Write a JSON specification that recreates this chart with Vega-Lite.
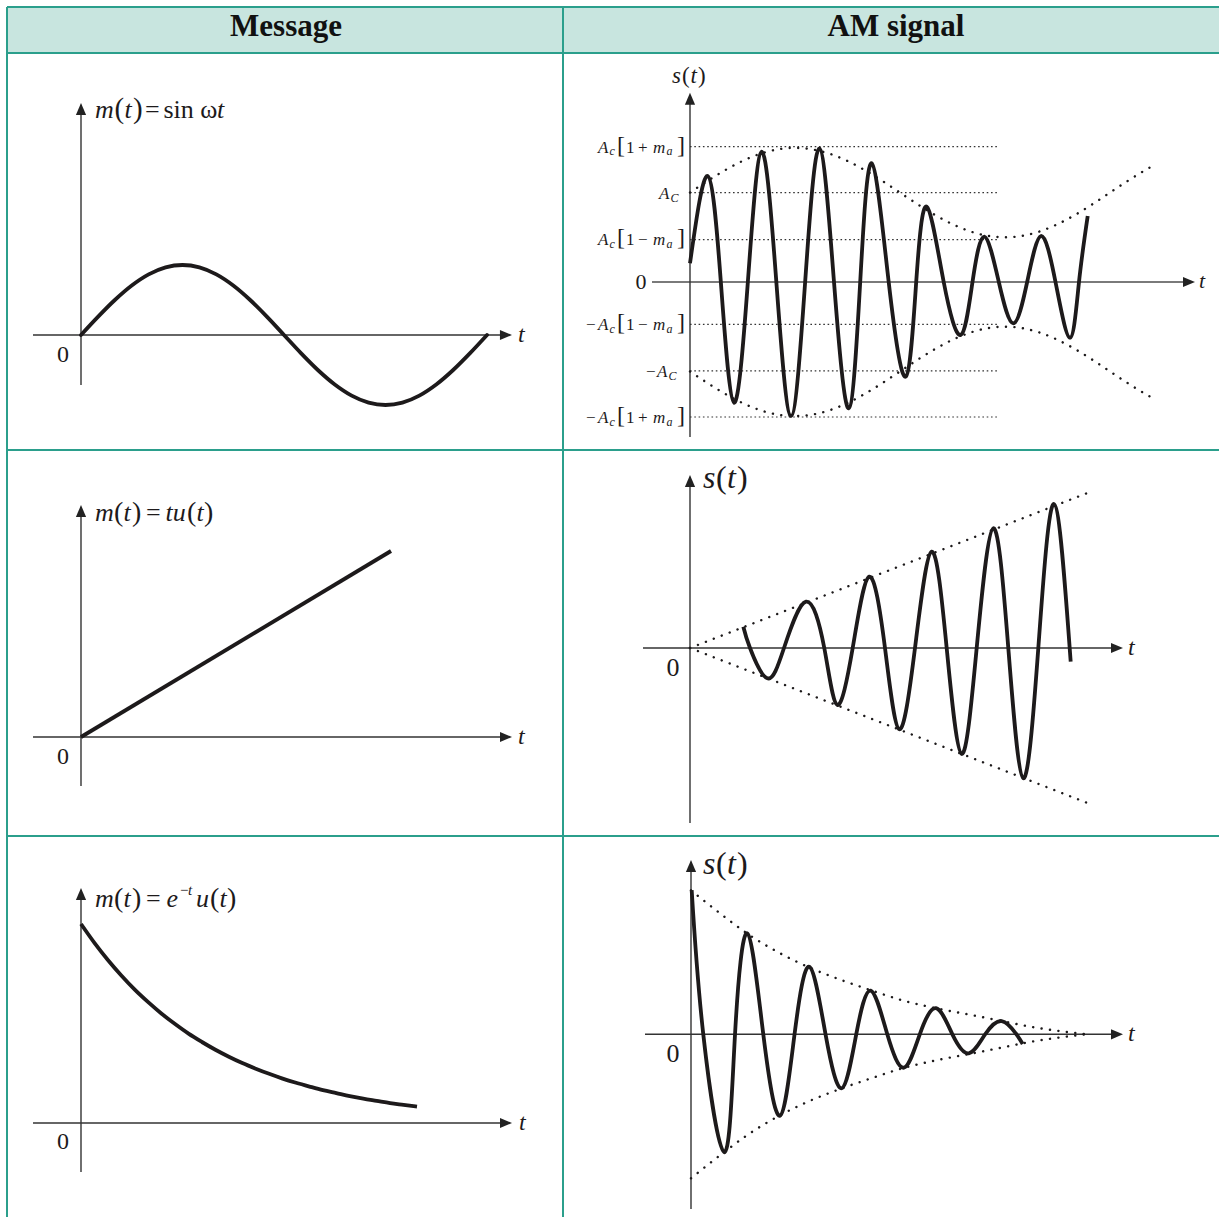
{
"$schema": "https://vega.github.io/schema/vega-lite/v6.json",
"padding": {"left": 6, "top": 6, "right": 0, "bottom": 0},
"background": "#ffffff",
"config": {"view": {"stroke": null}},
"spacing": 0,
"bounds": "flush",
"columns": 2,
"concat": [
 {"width": 556, "height": 46, "view": {"fill": "#c8e5df"},
  "encoding": {
   "x": {"field": "x", "type": "quantitative", "scale": {"domain": [0, 1], "nice": false, "zero": false}, "axis": null},
   "y": {"field": "y", "type": "quantitative", "scale": {"domain": [0, 1], "nice": false, "zero": false}, "axis": null}},
  "layer": [
   {"data": {"values": [{"x": 0, "y": 0, "x2": 0, "y2": 1}, {"x": 1, "y": 0, "x2": 1, "y2": 1}, {"x": 0, "y": 1, "x2": 1, "y2": 1}]},
    "mark": {"type": "rule", "color": "#2b9f8c", "strokeWidth": 2}, "encoding": {"x2": {"field": "x2"}, "y2": {"field": "y2"}}},
   {"data": {"values": [{"x": 0.5018, "y": 0.3696, "s": "Message"}]},
    "mark": {"type": "text", "font": "Liberation Serif", "fontSize": 31, "fontWeight": "bold", "align": "center", "baseline": "alphabetic", "color": "#111111"},
    "encoding": {"text": {"field": "s"}}}
  ]},
 {"width": 656, "height": 46, "view": {"fill": "#c8e5df"},
  "encoding": {
   "x": {"field": "x", "type": "quantitative", "scale": {"domain": [0, 1], "nice": false, "zero": false}, "axis": null},
   "y": {"field": "y", "type": "quantitative", "scale": {"domain": [0, 1], "nice": false, "zero": false}, "axis": null}},
  "layer": [
   {"data": {"values": [{"x": 0, "y": 0, "x2": 0, "y2": 1}, {"x": 0, "y": 1, "x2": 1, "y2": 1}]},
    "mark": {"type": "rule", "color": "#2b9f8c", "strokeWidth": 2}, "encoding": {"x2": {"field": "x2"}, "y2": {"field": "y2"}}},
   {"data": {"values": [{"x": 0.5076, "y": 0.3696, "s": "AM signal"}]},
    "mark": {"type": "text", "font": "Liberation Serif", "fontSize": 31, "fontWeight": "bold", "align": "center", "baseline": "alphabetic", "color": "#111111"},
    "encoding": {"text": {"field": "s"}}}
  ]},
 {"width": 556, "height": 397,
  "encoding": {
   "x": {"field": "x", "type": "quantitative", "scale": {"domain": [-65.617, 427.39], "nice": false, "zero": false}, "axis": null},
   "y": {"field": "y", "type": "quantitative", "scale": {"domain": [-1.6429, 4.0286], "nice": false, "zero": false}, "axis": null}},
  "layer": [
   {"data": {"values": [{"x": -65.617, "y": -1.6429, "x2": -65.617, "y2": 4.0286}, {"x": 427.39, "y": -1.6429, "x2": 427.39, "y2": 4.0286}, {"x": -65.617, "y": 4.0286, "x2": 427.39, "y2": 4.0286}]},
    "mark": {"type": "rule", "color": "#2b9f8c", "strokeWidth": 2}, "encoding": {"x2": {"field": "x2"}, "y2": {"field": "y2"}}},
   {"data": {"values": [{"x": 0, "y": -0.714, "x2": 0, "y2": 3.2286}, {"x": -42.56, "y": 0, "x2": 376.8, "y2": 0}]},
    "mark": {"type": "rule", "color": "#333333", "strokeWidth": 1.4}, "encoding": {"x2": {"field": "x2"}, "y2": {"field": "y2"}}},
   {"data": {"values": [{"x": 0, "y": 3.2286}]},
    "mark": {"type": "point", "shape": "M0,-1L-0.85,1L0.85,1Z", "size": 144, "filled": true, "color": "#222222", "opacity": 1}},
   {"data": {"values": [{"x": 376.8, "y": 0}]},
    "mark": {"type": "point", "shape": "M1,0L-1,-0.85L-1,0.85Z", "size": 144, "filled": true, "color": "#222222", "opacity": 1}},
   {"data": {"values": [
     {"x": 0, "y": 0}, {"x": 15, "y": 0.259}, {"x": 30, "y": 0.5}, {"x": 45, "y": 0.707}, {"x": 60, "y": 0.866}, {"x": 75, "y": 0.966}, {"x": 90, "y": 1},
     {"x": 105, "y": 0.966}, {"x": 120, "y": 0.866}, {"x": 135, "y": 0.707}, {"x": 150, "y": 0.5}, {"x": 165, "y": 0.259}, {"x": 180, "y": 0},
     {"x": 195, "y": -0.259}, {"x": 210, "y": -0.5}, {"x": 225, "y": -0.707}, {"x": 240, "y": -0.866}, {"x": 255, "y": -0.966}, {"x": 270, "y": -1},
     {"x": 285, "y": -0.966}, {"x": 300, "y": -0.866}, {"x": 315, "y": -0.707}, {"x": 330, "y": -0.5}, {"x": 345, "y": -0.259}, {"x": 360, "y": 0}]},
    "mark": {"type": "line", "interpolate": "monotone", "color": "#1d1a1b", "strokeWidth": 3.8, "strokeCap": "round"}},
   {"data": {"values": [{"x": 12.41, "y": 3.1, "s": "m"}, {"x": 38.57, "y": 3.1, "s": "t"}, {"x": 120.6, "y": 3.1, "s": "t"}]},
    "mark": {"type": "text", "font": "Liberation Serif", "fontSize": 26, "fontStyle": "italic", "align": "left", "baseline": "alphabetic", "color": "#1d1a1b"},
    "encoding": {"text": {"field": "s"}}},
   {"data": {"values": [{"x": 29.7, "y": 3.1, "s": "("}, {"x": 46.11, "y": 3.1, "s": ")"}]},
    "mark": {"type": "text", "font": "Liberation Serif", "fontSize": 29, "align": "left", "baseline": "alphabetic", "color": "#1d1a1b"},
    "encoding": {"text": {"field": "s"}}},
   {"data": {"values": [{"x": 56.75, "y": 3.1, "s": "="}, {"x": 73.15, "y": 3.1, "s": "sin ω"}]},
    "mark": {"type": "text", "font": "Liberation Serif", "fontSize": 26, "align": "left", "baseline": "alphabetic", "color": "#1d1a1b"},
    "encoding": {"text": {"field": "s"}}},
   {"data": {"values": [{"x": -15.96, "y": -0.286, "s": "0"}]},
    "mark": {"type": "text", "font": "Liberation Serif", "fontSize": 24, "align": "center", "baseline": "middle", "color": "#1d1a1b"},
    "encoding": {"text": {"field": "s"}}},
   {"data": {"values": [{"x": 387.5, "y": -0.1, "s": "t"}]},
    "mark": {"type": "text", "font": "Liberation Serif", "fontSize": 24, "fontStyle": "italic", "align": "left", "baseline": "alphabetic", "color": "#1d1a1b"},
    "encoding": {"text": {"field": "s"}}}
  ]},
 {"width": 656, "height": 397,
  "encoding": {
   "x": {"field": "x", "type": "quantitative", "scale": {"domain": [-108.857, 453.429], "nice": false, "zero": false}, "axis": null},
   "y": {"field": "y", "type": "quantitative", "scale": {"domain": [-3.7584, 5.123], "nice": false, "zero": false}, "axis": null}},
  "layer": [
   {"data": {"values": [{"x": -108.857, "y": -3.7584, "x2": -108.857, "y2": 5.123}, {"x": -108.857, "y": 5.123, "x2": 453.429, "y2": 5.123}]},
    "mark": {"type": "rule", "color": "#2b9f8c", "strokeWidth": 2}, "encoding": {"x2": {"field": "x2"}, "y2": {"field": "y2"}}},
   {"data": {"values": [{"x": 0, "y": 3.03, "x2": 264, "y2": 3.03}, {"x": 0, "y": 2.0, "x2": 264, "y2": 2.0}, {"x": 0, "y": 0.95, "x2": 264, "y2": 0.95},
     {"x": 0, "y": -0.95, "x2": 264, "y2": -0.95}, {"x": 0, "y": -1.99, "x2": 264, "y2": -1.99}, {"x": 0, "y": -3.02, "x2": 264, "y2": -3.02}]},
    "mark": {"type": "rule", "color": "#333333", "strokeWidth": 1.2, "strokeDash": [1.6, 2.7]}, "encoding": {"x2": {"field": "x2"}, "y2": {"field": "y2"}}},
   {"data": {"values": [{"x": -32.57, "y": 0, "x2": 427.7, "y2": 0}]},
    "mark": {"type": "rule", "color": "#7a7a7a", "strokeWidth": 2}, "encoding": {"x2": {"field": "x2"}, "y2": {"field": "y2"}}},
   {"data": {"values": [{"x": 0, "y": -3.47, "x2": 0, "y2": 4.1}]},
    "mark": {"type": "rule", "color": "#333333", "strokeWidth": 1.4}, "encoding": {"x2": {"field": "x2"}, "y2": {"field": "y2"}}},
   {"data": {"values": [{"x": 0, "y": 4.1}]},
    "mark": {"type": "point", "shape": "M0,-1L-0.85,1L0.85,1Z", "size": 144, "filled": true, "color": "#222222", "opacity": 1}},
   {"data": {"values": [{"x": 427.7, "y": 0}]},
    "mark": {"type": "point", "shape": "M1,0L-1,-0.85L-1,0.85Z", "size": 144, "filled": true, "color": "#222222", "opacity": 1}},
   {"data": {"values": [
     {"x": 0, "y": 2, "k": "u"}, {"x": 15, "y": 2.259, "k": "u"}, {"x": 30, "y": 2.5, "k": "u"}, {"x": 45, "y": 2.707, "k": "u"}, {"x": 60, "y": 2.866, "k": "u"},
     {"x": 75, "y": 2.966, "k": "u"}, {"x": 90, "y": 3, "k": "u"}, {"x": 105, "y": 2.966, "k": "u"}, {"x": 120, "y": 2.866, "k": "u"}, {"x": 135, "y": 2.707, "k": "u"},
     {"x": 150, "y": 2.5, "k": "u"}, {"x": 165, "y": 2.259, "k": "u"}, {"x": 180, "y": 2, "k": "u"}, {"x": 195, "y": 1.741, "k": "u"}, {"x": 210, "y": 1.5, "k": "u"},
     {"x": 225, "y": 1.293, "k": "u"}, {"x": 240, "y": 1.134, "k": "u"}, {"x": 255, "y": 1.034, "k": "u"}, {"x": 270, "y": 1, "k": "u"}, {"x": 285, "y": 1.034, "k": "u"},
     {"x": 300, "y": 1.134, "k": "u"}, {"x": 315, "y": 1.293, "k": "u"}, {"x": 330, "y": 1.5, "k": "u"}, {"x": 345, "y": 1.741, "k": "u"}, {"x": 360, "y": 2, "k": "u"},
     {"x": 375, "y": 2.259, "k": "u"}, {"x": 390, "y": 2.5, "k": "u"}, {"x": 396, "y": 2.588, "k": "u"},
     {"x": 0, "y": -2, "k": "l"}, {"x": 15, "y": -2.259, "k": "l"}, {"x": 30, "y": -2.5, "k": "l"}, {"x": 45, "y": -2.707, "k": "l"}, {"x": 60, "y": -2.866, "k": "l"},
     {"x": 75, "y": -2.966, "k": "l"}, {"x": 90, "y": -3, "k": "l"}, {"x": 105, "y": -2.966, "k": "l"}, {"x": 120, "y": -2.866, "k": "l"}, {"x": 135, "y": -2.707, "k": "l"},
     {"x": 150, "y": -2.5, "k": "l"}, {"x": 165, "y": -2.259, "k": "l"}, {"x": 180, "y": -2, "k": "l"}, {"x": 195, "y": -1.741, "k": "l"}, {"x": 210, "y": -1.5, "k": "l"},
     {"x": 225, "y": -1.293, "k": "l"}, {"x": 240, "y": -1.134, "k": "l"}, {"x": 255, "y": -1.034, "k": "l"}, {"x": 270, "y": -1, "k": "l"}, {"x": 285, "y": -1.034, "k": "l"},
     {"x": 300, "y": -1.134, "k": "l"}, {"x": 315, "y": -1.293, "k": "l"}, {"x": 330, "y": -1.5, "k": "l"}, {"x": 345, "y": -1.741, "k": "l"}, {"x": 360, "y": -2, "k": "l"},
     {"x": 375, "y": -2.259, "k": "l"}, {"x": 390, "y": -2.5, "k": "l"}, {"x": 396, "y": -2.588, "k": "l"}]},
    "mark": {"type": "line", "interpolate": "monotone", "color": "#1d1a1b", "strokeWidth": 2.4, "strokeDash": [0.1, 8.4], "strokeCap": "round"},
    "encoding": {"detail": {"field": "k"}}},
   {"data": {"values": [
     {"x": 0, "y": 0.418}, {"x": 15.17, "y": 2.371}, {"x": 26.44, "y": 0}, {"x": 37.71, "y": -2.7}, {"x": 49.59, "y": 0}, {"x": 61.46, "y": 2.915},
     {"x": 74.01, "y": 0}, {"x": 86.57, "y": -2.998}, {"x": 98.7, "y": 0}, {"x": 110.83, "y": 2.991}, {"x": 123.43, "y": 0}, {"x": 136.03, "y": -2.826},
     {"x": 145.89, "y": 0}, {"x": 155.74, "y": 2.655}, {"x": 170.31, "y": 0}, {"x": 184.89, "y": -2.119}, {"x": 193.89, "y": 0}, {"x": 202.89, "y": 1.685},
     {"x": 217.46, "y": 0}, {"x": 232.03, "y": -1.186}, {"x": 242.14, "y": 0}, {"x": 252.26, "y": 1.013}, {"x": 264.69, "y": 0}, {"x": 277.11, "y": -0.924},
     {"x": 288.99, "y": 0}, {"x": 300.86, "y": 1.029}, {"x": 313.29, "y": 0}, {"x": 325.71, "y": -1.246}, {"x": 333.43, "y": 0}, {"x": 340.89, "y": 1.477}]},
    "mark": {"type": "line", "interpolate": "natural", "color": "#1d1a1b", "strokeWidth": 3.8, "strokeCap": "butt"}},
   {"data": {"values": [
     {"x": -78.86, "y": 2.897, "s": "A"}, {"x": -31.71, "y": 2.897, "s": "m"}, {"x": -78.86, "y": 0.821, "s": "A"}, {"x": -31.71, "y": 0.821, "s": "m"},
     {"x": -78.86, "y": -1.081, "s": "A"}, {"x": -31.71, "y": -1.081, "s": "m"}, {"x": -78.86, "y": -3.148, "s": "A"}, {"x": -31.71, "y": -3.148, "s": "m"},
     {"x": -26.57, "y": 1.864, "s": "A"}, {"x": -28.29, "y": -2.119, "s": "A"}]},
    "mark": {"type": "text", "font": "Liberation Serif", "fontSize": 17, "fontStyle": "italic", "align": "left", "baseline": "alphabetic", "color": "#1d1a1b"},
    "encoding": {"text": {"field": "s"}}},
   {"data": {"values": [
     {"x": -69.0, "y": 2.83, "s": "c"}, {"x": -20.14, "y": 2.83, "s": "a"}, {"x": -69.0, "y": 0.754, "s": "c"}, {"x": -20.14, "y": 0.754, "s": "a"},
     {"x": -69.0, "y": -1.148, "s": "c"}, {"x": -20.14, "y": -1.148, "s": "a"}, {"x": -69.0, "y": -3.215, "s": "c"}, {"x": -20.14, "y": -3.215, "s": "a"},
     {"x": -16.71, "y": 1.796, "s": "C"}, {"x": -18.43, "y": -2.186, "s": "C"}]},
    "mark": {"type": "text", "font": "Liberation Serif", "fontSize": 12, "fontStyle": "italic", "align": "left", "baseline": "alphabetic", "color": "#1d1a1b"},
    "encoding": {"text": {"field": "s"}}},
   {"data": {"values": [
     {"x": -54.86, "y": 2.897, "s": "1\u2009+"}, {"x": -54.86, "y": 0.821, "s": "1\u2009\u2212"}, {"x": -54.86, "y": -1.081, "s": "1\u2009\u2212"}, {"x": -54.86, "y": -3.148, "s": "1\u2009+"},
     {"x": -89.14, "y": -1.081, "s": "\u2212"}, {"x": -89.14, "y": -3.148, "s": "\u2212"}, {"x": -37.71, "y": -2.119, "s": "\u2212"}]},
    "mark": {"type": "text", "font": "Liberation Serif", "fontSize": 17, "align": "left", "baseline": "alphabetic", "color": "#1d1a1b"},
    "encoding": {"text": {"field": "s"}}},
   {"data": {"values": [
     {"x": -62.57, "y": 2.897, "s": "["}, {"x": -11.14, "y": 2.897, "s": "]"}, {"x": -62.57, "y": 0.821, "s": "["}, {"x": -11.14, "y": 0.821, "s": "]"},
     {"x": -62.57, "y": -1.081, "s": "["}, {"x": -11.14, "y": -1.081, "s": "]"}, {"x": -62.57, "y": -3.148, "s": "["}, {"x": -11.14, "y": -3.148, "s": "]"}]},
    "mark": {"type": "text", "font": "Liberation Serif", "fontSize": 24, "align": "left", "baseline": "alphabetic", "color": "#1d1a1b"},
    "encoding": {"text": {"field": "s"}}},
   {"data": {"values": [{"x": -15.43, "y": 4.452, "s": "s"}, {"x": 0.43, "y": 4.452, "s": "t"}]},
    "mark": {"type": "text", "font": "Liberation Serif", "fontSize": 23, "fontStyle": "italic", "align": "left", "baseline": "alphabetic", "color": "#1d1a1b"},
    "encoding": {"text": {"field": "s"}}},
   {"data": {"values": [{"x": -6.86, "y": 4.452, "s": "("}, {"x": 6.86, "y": 4.452, "s": ")"}]},
    "mark": {"type": "text", "font": "Liberation Serif", "fontSize": 23, "align": "left", "baseline": "alphabetic", "color": "#1d1a1b"},
    "encoding": {"text": {"field": "s"}}},
   {"data": {"values": [{"x": -42.0, "y": 0, "s": "0"}]},
    "mark": {"type": "text", "font": "Liberation Serif", "fontSize": 22, "align": "center", "baseline": "middle", "color": "#1d1a1b"},
    "encoding": {"text": {"field": "s"}}},
   {"data": {"values": [{"x": 436.29, "y": -0.134, "s": "t"}]},
    "mark": {"type": "text", "font": "Liberation Serif", "fontSize": 22, "fontStyle": "italic", "align": "left", "baseline": "alphabetic", "color": "#1d1a1b"},
    "encoding": {"text": {"field": "s"}}}
  ]},
 {"width": 556, "height": 386,
  "encoding": {
   "x": {"field": "x", "type": "quantitative", "scale": {"domain": [-1.1935, 7.7742], "nice": false, "zero": false}, "axis": null},
   "y": {"field": "y", "type": "quantitative", "scale": {"domain": [-2.6613, 7.7151], "nice": false, "zero": false}, "axis": null}},
  "layer": [
   {"data": {"values": [{"x": -1.1935, "y": -2.6613, "x2": -1.1935, "y2": 7.7151}, {"x": 7.7742, "y": -2.6613, "x2": 7.7742, "y2": 7.7151}, {"x": -1.1935, "y": 7.7151, "x2": 7.7742, "y2": 7.7151}]},
    "mark": {"type": "rule", "color": "#2b9f8c", "strokeWidth": 2}, "encoding": {"x2": {"field": "x2"}, "y2": {"field": "y2"}}},
   {"data": {"values": [{"x": 0, "y": -1.317, "x2": 0, "y2": 6.075}, {"x": -0.774, "y": 0, "x2": 6.855, "y2": 0}]},
    "mark": {"type": "rule", "color": "#333333", "strokeWidth": 1.4}, "encoding": {"x2": {"field": "x2"}, "y2": {"field": "y2"}}},
   {"data": {"values": [{"x": 0, "y": 6.075}]},
    "mark": {"type": "point", "shape": "M0,-1L-0.85,1L0.85,1Z", "size": 144, "filled": true, "color": "#222222", "opacity": 1}},
   {"data": {"values": [{"x": 6.855, "y": 0}]},
    "mark": {"type": "point", "shape": "M1,0L-1,-0.85L-1,0.85Z", "size": 144, "filled": true, "color": "#222222", "opacity": 1}},
   {"data": {"values": [{"x": 0, "y": 0}, {"x": 5, "y": 5}]},
    "mark": {"type": "line", "color": "#1d1a1b", "strokeWidth": 3.8}},
   {"data": {"values": [{"x": 0.2258, "y": 5.8065, "s": "m"}, {"x": 0.6855, "y": 5.8065, "s": "t"}, {"x": 1.3629, "y": 5.8065, "s": "tu"}, {"x": 1.8629, "y": 5.8065, "s": "t"}]},
    "mark": {"type": "text", "font": "Liberation Serif", "fontSize": 26, "fontStyle": "italic", "align": "left", "baseline": "alphabetic", "color": "#1d1a1b"},
    "encoding": {"text": {"field": "s"}}},
   {"data": {"values": [{"x": 0.5323, "y": 5.8065, "s": "("}, {"x": 0.8226, "y": 5.8065, "s": ")"}, {"x": 1.7097, "y": 5.8065, "s": "("}, {"x": 1.9839, "y": 5.8065, "s": ")"}]},
    "mark": {"type": "text", "font": "Liberation Serif", "fontSize": 28, "align": "left", "baseline": "alphabetic", "color": "#1d1a1b"},
    "encoding": {"text": {"field": "s"}}},
   {"data": {"values": [{"x": 1.0484, "y": 5.8065, "s": "="}]},
    "mark": {"type": "text", "font": "Liberation Serif", "fontSize": 26, "align": "left", "baseline": "alphabetic", "color": "#1d1a1b"},
    "encoding": {"text": {"field": "s"}}},
   {"data": {"values": [{"x": -0.2903, "y": -0.5376, "s": "0"}]},
    "mark": {"type": "text", "font": "Liberation Serif", "fontSize": 24, "align": "center", "baseline": "middle", "color": "#1d1a1b"},
    "encoding": {"text": {"field": "s"}}},
   {"data": {"values": [{"x": 7.0484, "y": -0.1882, "s": "t"}]},
    "mark": {"type": "text", "font": "Liberation Serif", "fontSize": 24, "fontStyle": "italic", "align": "left", "baseline": "alphabetic", "color": "#1d1a1b"},
    "encoding": {"text": {"field": "s"}}}
  ]},
 {"width": 656, "height": 386,
  "encoding": {
   "x": {"field": "x", "type": "quantitative", "scale": {"domain": [-2.0484, 8.5323], "nice": false, "zero": false}, "axis": null},
   "y": {"field": "y", "type": "quantitative", "scale": {"domain": [-7.775, 8.1886], "nice": false, "zero": false}, "axis": null}},
  "layer": [
   {"data": {"values": [{"x": -2.0484, "y": -7.775, "x2": -2.0484, "y2": 8.1886}, {"x": -2.0484, "y": 8.1886, "x2": 8.5323, "y2": 8.1886}]},
    "mark": {"type": "rule", "color": "#2b9f8c", "strokeWidth": 2}, "encoding": {"x2": {"field": "x2"}, "y2": {"field": "y2"}}},
   {"data": {"values": [{"x": 0, "y": -7.237, "x2": 0, "y2": 6.906}, {"x": -0.758, "y": 0, "x2": 6.887, "y2": 0}]},
    "mark": {"type": "rule", "color": "#333333", "strokeWidth": 1.4}, "encoding": {"x2": {"field": "x2"}, "y2": {"field": "y2"}}},
   {"data": {"values": [{"x": 0, "y": 6.906}]},
    "mark": {"type": "point", "shape": "M0,-1L-0.85,1L0.85,1Z", "size": 144, "filled": true, "color": "#222222", "opacity": 1}},
   {"data": {"values": [{"x": 6.887, "y": 0}]},
    "mark": {"type": "point", "shape": "M1,0L-1,-0.85L-1,0.85Z", "size": 144, "filled": true, "color": "#222222", "opacity": 1}},
   {"data": {"values": [{"x": 0, "y": 0, "x2": 6.4, "y2": 6.4}, {"x": 0, "y": 0, "x2": 6.4, "y2": -6.4}]},
    "mark": {"type": "rule", "color": "#1d1a1b", "strokeWidth": 2.4, "strokeDash": [0.1, 8.4], "strokeCap": "round"}, "encoding": {"x2": {"field": "x2"}, "y2": {"field": "y2"}}},
   {"data": {"values": [
     {"x": 0.86, "y": 0.881}, {"x": 0.968, "y": 0}, {"x": 1.247, "y": -1.253}, {"x": 1.516, "y": 0}, {"x": 1.871, "y": 1.915}, {"x": 2.166, "y": 0},
     {"x": 2.376, "y": -2.357}, {"x": 2.624, "y": 0}, {"x": 2.892, "y": 2.949}, {"x": 3.145, "y": 0}, {"x": 3.376, "y": -3.362}, {"x": 3.629, "y": 0},
     {"x": 3.898, "y": 3.983}, {"x": 4.14, "y": 0}, {"x": 4.382, "y": -4.384}, {"x": 4.624, "y": 0}, {"x": 4.892, "y": 4.95}, {"x": 5.134, "y": 0},
     {"x": 5.376, "y": -5.389}, {"x": 5.618, "y": 0}, {"x": 5.871, "y": 5.955}, {"x": 6.14, "y": -0.567}]},
    "mark": {"type": "line", "interpolate": "natural", "color": "#1d1a1b", "strokeWidth": 3.8, "strokeCap": "butt"}},
   {"data": {"values": [{"x": 0.2097, "y": 6.617, "s": "s"}, {"x": 0.5968, "y": 6.617, "s": "t"}]},
    "mark": {"type": "text", "font": "Liberation Serif", "fontSize": 32, "fontStyle": "italic", "align": "left", "baseline": "alphabetic", "color": "#1d1a1b"},
    "encoding": {"text": {"field": "s"}}},
   {"data": {"values": [{"x": 0.4194, "y": 6.617, "s": "("}, {"x": 0.7581, "y": 6.617, "s": ")"}]},
    "mark": {"type": "text", "font": "Liberation Serif", "fontSize": 32, "align": "left", "baseline": "alphabetic", "color": "#1d1a1b"},
    "encoding": {"text": {"field": "s"}}},
   {"data": {"values": [{"x": -0.274, "y": -0.827, "s": "0"}]},
    "mark": {"type": "text", "font": "Liberation Serif", "fontSize": 26, "align": "center", "baseline": "middle", "color": "#1d1a1b"},
    "encoding": {"text": {"field": "s"}}},
   {"data": {"values": [{"x": 7.065, "y": -0.2895, "s": "t"}]},
    "mark": {"type": "text", "font": "Liberation Serif", "fontSize": 24, "fontStyle": "italic", "align": "left", "baseline": "alphabetic", "color": "#1d1a1b"},
    "encoding": {"text": {"field": "s"}}}
  ]},
 {"width": 556, "height": 381,
  "encoding": {
   "x": {"field": "x", "type": "quantitative", "scale": {"domain": [-0.5506, 3.5863], "nice": false, "zero": false}, "axis": null},
   "y": {"field": "y", "type": "quantitative", "scale": {"domain": [-0.4724, 1.4422], "nice": false, "zero": false}, "axis": null}},
  "layer": [
   {"data": {"values": [{"x": -0.5506, "y": -0.4724, "x2": -0.5506, "y2": 1.4422}, {"x": 3.5863, "y": -0.4724, "x2": 3.5863, "y2": 1.4422}, {"x": -0.5506, "y": 1.4422, "x2": 3.5863, "y2": 1.4422}]},
    "mark": {"type": "rule", "color": "#2b9f8c", "strokeWidth": 2}, "encoding": {"x2": {"field": "x2"}, "y2": {"field": "y2"}}},
   {"data": {"values": [{"x": 0, "y": -0.2462, "x2": 0, "y2": 1.1508}, {"x": -0.357, "y": 0, "x2": 3.1622, "y2": 0}]},
    "mark": {"type": "rule", "color": "#333333", "strokeWidth": 1.4}, "encoding": {"x2": {"field": "x2"}, "y2": {"field": "y2"}}},
   {"data": {"values": [{"x": 0, "y": 1.1508}]},
    "mark": {"type": "point", "shape": "M0,-1L-0.85,1L0.85,1Z", "size": 144, "filled": true, "color": "#222222", "opacity": 1}},
   {"data": {"values": [{"x": 3.1622, "y": 0}]},
    "mark": {"type": "point", "shape": "M1,0L-1,-0.85L-1,0.85Z", "size": 144, "filled": true, "color": "#222222", "opacity": 1}},
   {"data": {"values": [
     {"x": 0, "y": 1}, {"x": 0.1, "y": 0.905}, {"x": 0.2, "y": 0.819}, {"x": 0.3, "y": 0.741}, {"x": 0.4, "y": 0.67}, {"x": 0.5, "y": 0.607},
     {"x": 0.6, "y": 0.549}, {"x": 0.7, "y": 0.497}, {"x": 0.8, "y": 0.449}, {"x": 0.9, "y": 0.407}, {"x": 1.0, "y": 0.368}, {"x": 1.1, "y": 0.333},
     {"x": 1.2, "y": 0.301}, {"x": 1.3, "y": 0.273}, {"x": 1.4, "y": 0.247}, {"x": 1.5, "y": 0.223}, {"x": 1.6, "y": 0.202}, {"x": 1.7, "y": 0.183},
     {"x": 1.8, "y": 0.165}, {"x": 1.9, "y": 0.15}, {"x": 2.0, "y": 0.135}, {"x": 2.1, "y": 0.122}, {"x": 2.2, "y": 0.111}, {"x": 2.3, "y": 0.1},
     {"x": 2.4, "y": 0.091}, {"x": 2.5, "y": 0.082}]},
    "mark": {"type": "line", "interpolate": "monotone", "color": "#1d1a1b", "strokeWidth": 3.8}},
   {"data": {"values": [{"x": 0.1042, "y": 1.0854, "s": "m"}, {"x": 0.3162, "y": 1.0854, "s": "t"}, {"x": 0.6362, "y": 1.0854, "s": "e"}, {"x": 0.8557, "y": 1.0854, "s": "u"}, {"x": 1.0305, "y": 1.0854, "s": "t"}]},
    "mark": {"type": "text", "font": "Liberation Serif", "fontSize": 26, "fontStyle": "italic", "align": "left", "baseline": "alphabetic", "color": "#1d1a1b"},
    "encoding": {"text": {"field": "s"}}},
   {"data": {"values": [{"x": 0.2455, "y": 1.0854, "s": "("}, {"x": 0.3795, "y": 1.0854, "s": ")"}, {"x": 0.9598, "y": 1.0854, "s": "("}, {"x": 1.0863, "y": 1.0854, "s": ")"}]},
    "mark": {"type": "text", "font": "Liberation Serif", "fontSize": 28, "align": "left", "baseline": "alphabetic", "color": "#1d1a1b"},
    "encoding": {"text": {"field": "s"}}},
   {"data": {"values": [{"x": 0.4836, "y": 1.0854, "s": "="}]},
    "mark": {"type": "text", "font": "Liberation Serif", "fontSize": 26, "align": "left", "baseline": "alphabetic", "color": "#1d1a1b"},
    "encoding": {"text": {"field": "s"}}},
   {"data": {"values": [{"x": 0.7359, "y": 1.1457, "s": "\u2212"}]},
    "mark": {"type": "text", "font": "Liberation Serif", "fontSize": 15, "align": "left", "baseline": "alphabetic", "color": "#1d1a1b"},
    "encoding": {"text": {"field": "s"}}},
   {"data": {"values": [{"x": 0.7961, "y": 1.1457, "s": "t"}]},
    "mark": {"type": "text", "font": "Liberation Serif", "fontSize": 15, "fontStyle": "italic", "align": "left", "baseline": "alphabetic", "color": "#1d1a1b"},
    "encoding": {"text": {"field": "s"}}},
   {"data": {"values": [{"x": -0.134, "y": -0.0955, "s": "0"}]},
    "mark": {"type": "text", "font": "Liberation Serif", "fontSize": 24, "align": "center", "baseline": "middle", "color": "#1d1a1b"},
    "encoding": {"text": {"field": "s"}}},
   {"data": {"values": [{"x": 3.259, "y": -0.035, "s": "t"}]},
    "mark": {"type": "text", "font": "Liberation Serif", "fontSize": 24, "fontStyle": "italic", "align": "left", "baseline": "alphabetic", "color": "#1d1a1b"},
    "encoding": {"text": {"field": "s"}}}
  ]},
 {"width": 656, "height": 381,
  "encoding": {
   "x": {"field": "x", "type": "quantitative", "scale": {"domain": [-2.0645, 8.5161], "nice": false, "zero": false}, "axis": null},
   "y": {"field": "y", "type": "quantitative", "scale": {"domain": [-1.2688, 1.3771], "nice": false, "zero": false}, "axis": null}},
  "layer": [
   {"data": {"values": [{"x": -2.0645, "y": -1.2688, "x2": -2.0645, "y2": 1.3771}, {"x": -2.0645, "y": 1.3771, "x2": 8.5161, "y2": 1.3771}]},
    "mark": {"type": "rule", "color": "#2b9f8c", "strokeWidth": 2}, "encoding": {"x2": {"field": "x2"}, "y2": {"field": "y2"}}},
   {"data": {"values": [{"x": 0, "y": -1.213, "x2": 0, "y2": 1.169}, {"x": -0.742, "y": 0, "x2": 6.871, "y2": 0}]},
    "mark": {"type": "rule", "color": "#333333", "strokeWidth": 1.4}, "encoding": {"x2": {"field": "x2"}, "y2": {"field": "y2"}}},
   {"data": {"values": [{"x": 0, "y": 1.169}]},
    "mark": {"type": "point", "shape": "M0,-1L-0.85,1L0.85,1Z", "size": 144, "filled": true, "color": "#222222", "opacity": 1}},
   {"data": {"values": [{"x": 6.871, "y": 0}]},
    "mark": {"type": "point", "shape": "M1,0L-1,-0.85L-1,0.85Z", "size": 144, "filled": true, "color": "#222222", "opacity": 1}},
   {"data": {"values": [
     {"x": 0, "y": 1.0, "k": "u"}, {"x": 0.532, "y": 0.819, "k": "u"}, {"x": 0.903, "y": 0.701, "k": "u"}, {"x": 1.435, "y": 0.563, "k": "u"}, {"x": 1.903, "y": 0.465, "k": "u"},
     {"x": 2.435, "y": 0.375, "k": "u"}, {"x": 2.903, "y": 0.306, "k": "u"}, {"x": 3.435, "y": 0.233, "k": "u"}, {"x": 3.952, "y": 0.181, "k": "u"}, {"x": 4.548, "y": 0.132, "k": "u"},
     {"x": 5.016, "y": 0.092, "k": "u"}, {"x": 5.484, "y": 0.052, "k": "u"}, {"x": 5.968, "y": 0.021, "k": "u"}, {"x": 6.387, "y": 0, "k": "u"},
     {"x": 0, "y": -1.0, "k": "l"}, {"x": 0.532, "y": -0.819, "k": "l"}, {"x": 0.903, "y": -0.701, "k": "l"}, {"x": 1.435, "y": -0.563, "k": "l"}, {"x": 1.903, "y": -0.465, "k": "l"},
     {"x": 2.435, "y": -0.375, "k": "l"}, {"x": 2.903, "y": -0.306, "k": "l"}, {"x": 3.435, "y": -0.233, "k": "l"}, {"x": 3.952, "y": -0.181, "k": "l"}, {"x": 4.548, "y": -0.132, "k": "l"},
     {"x": 5.016, "y": -0.092, "k": "l"}, {"x": 5.484, "y": -0.052, "k": "l"}, {"x": 5.968, "y": -0.021, "k": "l"}, {"x": 6.387, "y": 0, "k": "l"}]},
    "mark": {"type": "line", "interpolate": "monotone", "color": "#1d1a1b", "strokeWidth": 2.4, "strokeDash": [0.1, 8.4], "strokeCap": "round"},
    "encoding": {"detail": {"field": "k"}}},
   {"data": {"values": [
     {"x": 0.011, "y": 1.002}, {"x": 0.198, "y": 0}, {"x": 0.537, "y": -0.819}, {"x": 0.71, "y": 0}, {"x": 0.908, "y": 0.701}, {"x": 1.166, "y": 0},
     {"x": 1.435, "y": -0.565}, {"x": 1.67, "y": 0}, {"x": 1.908, "y": 0.469}, {"x": 2.17, "y": 0}, {"x": 2.431, "y": -0.375}, {"x": 2.665, "y": 0},
     {"x": 2.898, "y": 0.303}, {"x": 3.166, "y": 0}, {"x": 3.435, "y": -0.232}, {"x": 3.69, "y": 0}, {"x": 3.952, "y": 0.181}, {"x": 4.216, "y": 0},
     {"x": 4.48, "y": -0.132}, {"x": 4.745, "y": 0}, {"x": 5.011, "y": 0.092}, {"x": 5.25, "y": 0}, {"x": 5.35, "y": -0.067}]},
    "mark": {"type": "line", "interpolate": "natural", "color": "#1d1a1b", "strokeWidth": 3.8, "strokeCap": "butt"}},
   {"data": {"values": [{"x": 0.1935, "y": 1.1132, "s": "s"}, {"x": 0.5806, "y": 1.1132, "s": "t"}]},
    "mark": {"type": "text", "font": "Liberation Serif", "fontSize": 32, "fontStyle": "italic", "align": "left", "baseline": "alphabetic", "color": "#1d1a1b"},
    "encoding": {"text": {"field": "s"}}},
   {"data": {"values": [{"x": 0.4032, "y": 1.1132, "s": "("}, {"x": 0.7419, "y": 1.1132, "s": ")"}]},
    "mark": {"type": "text", "font": "Liberation Serif", "fontSize": 32, "align": "left", "baseline": "alphabetic", "color": "#1d1a1b"},
    "encoding": {"text": {"field": "s"}}},
   {"data": {"values": [{"x": -0.2903, "y": -0.1368, "s": "0"}]},
    "mark": {"type": "text", "font": "Liberation Serif", "fontSize": 26, "align": "center", "baseline": "middle", "color": "#1d1a1b"},
    "encoding": {"text": {"field": "s"}}},
   {"data": {"values": [{"x": 7.0484, "y": -0.0465, "s": "t"}]},
    "mark": {"type": "text", "font": "Liberation Serif", "fontSize": 24, "fontStyle": "italic", "align": "left", "baseline": "alphabetic", "color": "#1d1a1b"},
    "encoding": {"text": {"field": "s"}}}
  ]}
]
}
